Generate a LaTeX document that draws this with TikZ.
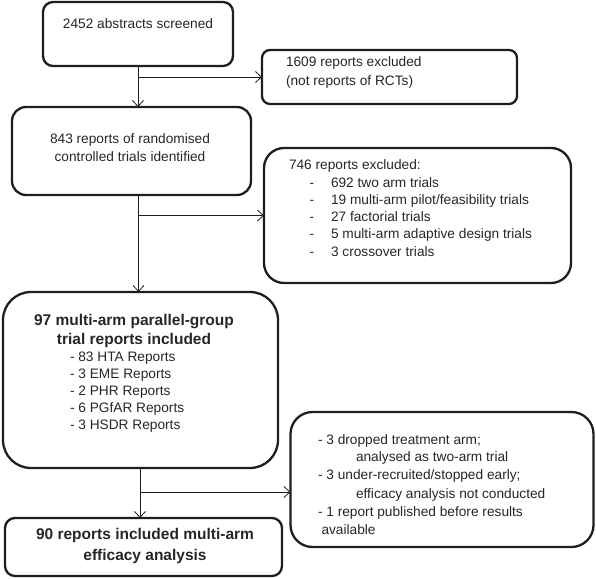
\documentclass[tikz,border=0pt]{standalone}
\usepackage{fontspec}
\setmainfont{Liberation Sans}
\usetikzlibrary{arrows.meta}
\definecolor{ink}{HTML}{1E1E1E}
\definecolor{txtc}{HTML}{262626}
\begin{document}
\begin{tikzpicture}[x=1pt,y=-1pt,
  box/.style={draw=ink, line width=2.3pt, inner sep=0pt, outer sep=0pt, rounded corners=#1},
  txt/.style={inner sep=0pt, outer sep=0pt, text=txtc, font=\fontsize{13.7}{16}\selectfont},
  btxt/.style={inner sep=0pt, outer sep=0pt, text=txtc, font=\fontsize{15.5}{18}\selectfont\bfseries},
  arr/.style={draw=ink, line width=0.8pt, -{Straight Barb[length=6pt,width=11pt,line width=0.8pt]}},
  ln/.style={draw=ink, line width=0.8pt}]
\useasboundingbox (0,0) rectangle (596,578);

% boxes
\node[box=10pt, minimum width=190pt, minimum height=64pt] (b1) at (138,34) {};
\node[box=8pt, minimum width=255pt, minimum height=54pt] (b2) at (389.5,77) {};
\node[box=14pt, minimum width=239pt, minimum height=88pt] (b3) at (131.5,151) {};
\node[box=20pt, minimum width=307pt, minimum height=135pt] (b4) at (417.5,215.5) {};
\node[box=28pt, minimum width=275pt, minimum height=176pt] (b5) at (140.5,380) {};
\node[box=22pt, minimum width=303pt, minimum height=135pt] (b6) at (442,479.5) {};
\node[box=10pt, minimum width=277pt, minimum height=58pt] (b7) at (143.5,547) {};

% texts
\node[txt, anchor=base] (t11) at (138,28.5) {2452 abstracts screened};

\node[txt, anchor=base west] (t21) at (286,66.5) {1609 reports excluded};
\node[txt, anchor=base west] (t22) at (286,85.5) {(not reports of RCTs)};

\node[txt, anchor=base] (t31) at (130,143.5) {843 reports of randomised};
\node[txt, anchor=base] (t32) at (130,161.5) {controlled trials identified};

\node[txt, anchor=base west] (t40) at (289,169) {746 reports excluded:};
\foreach \i/\yy/\s in {1/187.3/{692 two arm trials},
                       2/204.5/{19 multi-arm pilot/feasibility trials},
                       3/221.7/{27 factorial trials},
                       4/238.9/{5 multi-arm adaptive design trials},
                       5/256.1/{3 crossover trials}}{
  \node[txt, anchor=base] (d4\i) at (312,\yy) {-};
  \node[txt, anchor=base west] (t4\i) at (331,\yy) {\s};
}

\node[btxt, anchor=base] (t50) at (134,325) {97 multi-arm parallel-group};
\node[btxt, anchor=base] (t50b) at (134,344.5) {trial reports included};
\foreach \i/\yy/\s in {1/361.7/{83 HTA Reports},
                       2/378.7/{3 EME Reports},
                       3/395.7/{2 PHR Reports},
                       4/412.7/{6 PGfAR Reports},
                       5/429.7/{3 HSDR Reports}}{
  \node[txt, anchor=base west] (t5\i) at (70,\yy) {- \s};
}

\node[txt, anchor=base west] (t61) at (318,444) {- 3 dropped treatment arm;};
\node[txt, anchor=base west] (t62) at (356,461.7) {analysed as two-arm trial};
\node[txt, anchor=base west] (t63) at (318,479.3) {- 3 under-recruited/stopped early;};
\node[txt, anchor=base west] (t64) at (356,498) {efficacy analysis not conducted};
\node[txt, anchor=base west] (t65) at (318,516.7) {- 1 report published before results};
\node[txt, anchor=base west] (t66) at (321.5,534) {available};

\node[btxt, anchor=base] (t71) at (145,539.5) {90 reports included multi-arm};
\node[btxt, anchor=base] (t72) at (145,560) {efficacy analysis};

% connectors
\coordinate (s1) at (138,0);
\draw[arr] (s1 |- b1.south) -- (s1 |- b3.north);
\draw[arr] (s1 |- b2.west) -- (b2.west);

\coordinate (s2) at (138.5,0);
\draw[arr] (s2 |- b3.south) -- (s2 |- b5.north);
\draw[arr] (s2 |- b4.west) -- (b4.west);

\coordinate (s3) at (140,0);
\coordinate (j3) at (140,492);
\draw[arr] (s3 |- b5.south) -- (s3 |- b7.north);
\draw[arr] (j3) -- (j3 -| b6.west);
\end{tikzpicture}
\end{document}
